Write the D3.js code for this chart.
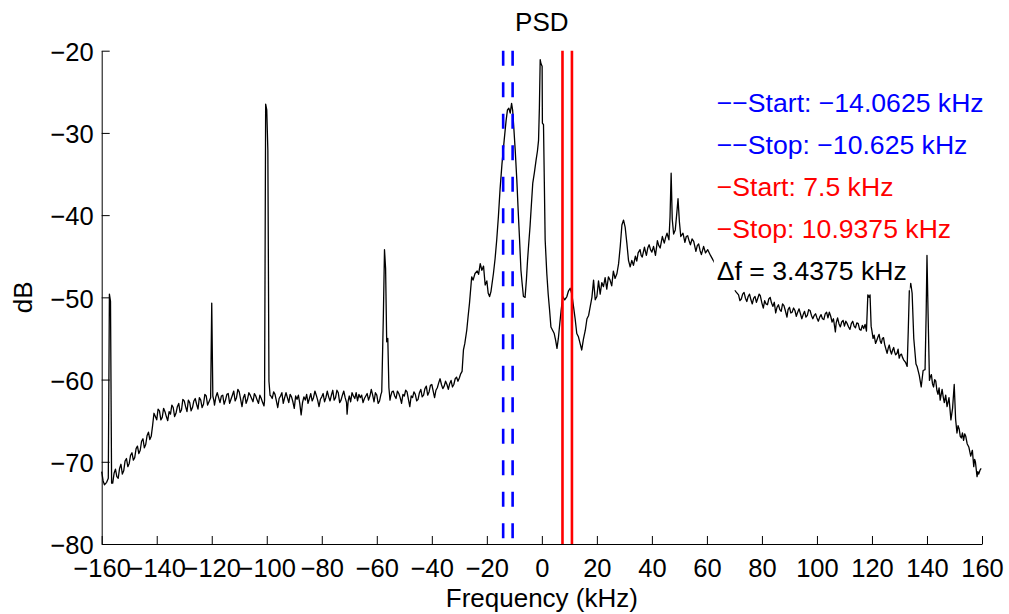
<!DOCTYPE html>
<html>
<head>
<meta charset="utf-8">
<script src="https://cdn.jsdelivr.net/npm/d3@7"></script>
<style>
  body { margin: 0; background: #fff; }
  svg { font-family: "Liberation Sans", Arial, sans-serif; }
</style>
</head>
<body>
<div id="container"></div>
<script>
/* CONSTANTS AND GLOBALS */
const width = 1009;
const height = 614;
const margin = { top: 50.7, right: 27, bottom: 70, left: 101.7 };

/* DATA */
// PSD trace, [frequency kHz, dB]
const psd = [
  [-160, -71.2], [-159.5, -72.3], [-159, -72.8], [-158.2, -72.5], [-157.6, -72.0], [-157.2, -49.6], [-156.8, -50.5], [-156.4, -72.6],
  [-156, -72.6], [-155.5, -71.4], [-155, -70.9], [-154.5, -71.8], [-154, -72.0], [-153.5, -70.8], [-153, -70.3], [-152.5, -71.5],
  [-152, -71.1], [-151.5, -69.9], [-151, -69.6], [-150.5, -70.6], [-150, -70.2], [-149.5, -69.2], [-149, -68.9], [-148.5, -69.8],
  [-148, -69.5], [-147.5, -68.4], [-147, -68.1], [-146.5, -69.0], [-146, -68.6], [-145.5, -67.5], [-145, -67.2], [-144.5, -68.3],
  [-144, -67.9], [-143.5, -66.8], [-143, -66.4], [-142.5, -67.3], [-142, -66.9], [-141.5, -65.6], [-141, -64.1], [-140.5, -64.5],
  [-140, -64.9], [-139.5, -63.6], [-139, -63.8], [-138.5, -64.9], [-138, -64.6], [-137.5, -63.5], [-137, -63.9], [-136.5, -64.5],
  [-136, -65.0], [-135.5, -63.9], [-135, -64.2], [-134.5, -63.1], [-134, -63.4], [-133.5, -64.5], [-133, -64.1], [-132.5, -63.3],
  [-132, -62.9], [-131.5, -64.0], [-131, -63.7], [-130.5, -62.4], [-130, -62.6], [-129.5, -63.3], [-129, -63.9], [-128.5, -62.5],
  [-128, -62.8], [-127.5, -63.8], [-127, -63.4], [-126.5, -62.6], [-126, -62.3], [-125.5, -63.0], [-125, -63.6], [-124.5, -62.2],
  [-124, -62.5], [-123.5, -63.4], [-123, -63.0], [-122.5, -61.8], [-122, -62.0], [-121.5, -63.1], [-121, -62.7], [-120.4, -62.2],
  [-120.0, -50.7], [-119.6, -62.0], [-119.2, -62.6], [-119, -63.1], [-118.5, -62.1], [-118, -61.6], [-117.5, -62.2], [-117, -62.8],
  [-116.5, -62.0], [-116, -61.9], [-115.5, -63.0], [-115, -62.5], [-114.5, -61.8], [-114, -61.7], [-113.5, -62.9], [-113, -62.4],
  [-112.5, -61.9], [-112, -61.4], [-111.5, -62.6], [-111, -62.2], [-110.5, -61.2], [-110, -61.5], [-109.5, -62.4], [-109, -63.3],
  [-108.5, -62.2], [-108, -61.8], [-107.5, -62.9], [-107, -62.4], [-106.5, -61.6], [-106, -61.9], [-105.5, -62.3], [-105, -62.7],
  [-104.5, -61.7], [-104, -62.0], [-103.5, -62.5], [-103, -62.9], [-102.5, -61.9], [-102, -62.3], [-101.5, -62.8], [-101, -63.2],
  [-100.8, -62.5], [-100.4, -26.5], [-100.0, -27.2], [-99.6, -32.1], [-99.2, -60.2], [-98.8, -61.9], [-98.5, -62.0], [-98, -62.3],
  [-97.5, -61.5], [-97, -61.8], [-96.5, -62.6], [-96, -63.4], [-95.5, -62.3], [-95, -62.0], [-94.5, -61.6], [-94, -62.9],
  [-93.5, -62.2], [-93, -61.6], [-92.5, -62.2], [-92, -62.8], [-91.5, -61.8], [-91, -62.1], [-90.5, -62.7], [-90, -63.5],
  [-89.5, -62.0], [-89, -62.4], [-88.5, -61.9], [-88, -62.9], [-87.5, -64.3], [-87, -62.8], [-86.5, -62.1], [-86, -62.5],
  [-85.5, -61.8], [-85, -62.9], [-84.5, -62.3], [-84, -61.7], [-83.5, -62.6], [-83, -62.2], [-82.5, -61.4], [-82, -61.9],
  [-81.5, -62.5], [-81, -63.3], [-80.5, -62.4], [-80, -62.1], [-79.5, -61.7], [-79, -62.7], [-78.5, -62.2], [-78, -61.4],
  [-77.5, -62.1], [-77, -62.6], [-76.5, -61.9], [-76, -61.3], [-75.5, -62.5], [-75, -62.2], [-74.5, -61.3], [-74, -61.6],
  [-73.5, -62.8], [-73, -62.5], [-72.5, -61.9], [-72, -61.4], [-71.5, -62.2], [-71, -62.8], [-70.8, -64.2], [-70.4, -62.6],
  [-70, -62.0], [-69.5, -62.7], [-69, -61.6], [-68.5, -62.0], [-68, -62.3], [-67.5, -61.6], [-67, -62.6], [-66.5, -61.8],
  [-66, -62.2], [-65.5, -61.9], [-65, -62.8], [-64.5, -62.3], [-64, -62.0], [-63.5, -61.7], [-63, -62.5], [-62.5, -62.0],
  [-62, -61.2], [-61.5, -61.9], [-61, -62.7], [-60.5, -61.6], [-60, -61.9], [-59.5, -62.9], [-59, -62.6], [-58.5, -61.8],
  [-58.2, -61.5], [-57.6, -52.0], [-57.2, -44.2], [-56.8, -46.5], [-56.4, -55.4], [-56.0, -55.0], [-55.6, -61.0], [-55.2, -62.5],
  [-55, -62.1], [-54.5, -61.5], [-54, -61.4], [-53.5, -62.0], [-53, -62.3], [-52.5, -61.4], [-52, -61.7], [-51.5, -62.2],
  [-51, -62.9], [-50.5, -61.8], [-50, -62.0], [-49.5, -61.3], [-49, -61.5], [-48.5, -62.4], [-48, -63.3], [-47.5, -62.0],
  [-47, -62.2], [-46.5, -61.5], [-46, -61.8], [-45.5, -62.6], [-45, -62.4], [-44.5, -61.6], [-44, -61.2], [-43.5, -62.1],
  [-43, -61.9], [-42.5, -61.1], [-42, -60.8], [-41.5, -61.9], [-41, -61.5], [-40.5, -60.7], [-40, -60.6], [-39.5, -61.4],
  [-39, -62.2], [-38.5, -61.3], [-38, -61.0], [-37.5, -60.4], [-37, -59.9], [-36.5, -60.6], [-36, -61.1], [-35.5, -60.8],
  [-35, -60.2], [-34.5, -60.6], [-34, -61.2], [-33.5, -60.5], [-33, -60.1], [-32.5, -60.9], [-32, -60.6], [-31.5, -59.9],
  [-31, -59.7], [-30.5, -60.2], [-30, -59.8], [-29.5, -59.3], [-29, -59.0], [-28.5, -56.4], [-28, -55.6], [-27.3, -54.0],
  [-26.8, -52.3], [-26.3, -50.7], [-25.5, -47.5], [-25, -47.9], [-24.3, -47.1], [-23.5, -46.8], [-23, -47.2], [-22.4, -45.9],
  [-21.8, -46.7], [-21.2, -46.2], [-20.6, -48.5], [-20, -48.0], [-19.5, -49.5], [-19, -49.9], [-18.5, -49.3], [-17.6, -47.1],
  [-17, -45.3], [-16.4, -43.0], [-15.8, -40.2], [-15.2, -36.9], [-14.5, -33.8], [-13.7, -30.9], [-13.0, -28.5], [-12.5, -27.2],
  [-12, -27.0], [-11.5, -27.6], [-11.0, -26.4], [-10.6, -27.3], [-10.3, -28.8], [-9.7, -32.0], [-9.1, -35.7], [-8.6, -39.5],
  [-8.1, -43.0], [-7.6, -46.7], [-7.2, -48.2], [-6.7, -49.9], [-6.1, -50.0], [-5.6, -47.8], [-5.2, -45.5], [-4.8, -43.6],
  [-4.3, -41.4], [-3.8, -38.7], [-3.3, -36.1], [-2.7, -34.8], [-2.1, -33.3], [-1.6, -32.2], [-1.2, -30.9], [-0.9, -27.0],
  [-0.6, -21.1], [-0.3, -21.6], [0.1, -21.9], [0.2, -28.8], [0.6, -29.0], [0.9, -36.0], [1.2, -43.0], [1.8, -47.1],
  [2.3, -49.6], [2.8, -51.5], [3.3, -53.6], [3.9, -54.0], [4.5, -54.4], [5.0, -55.2], [5.5, -56.2], [6.0, -55.0],
  [6.4, -53.6], [7.0, -51.6], [7.6, -49.9], [8.3, -50.3], [9.1, -49.9], [9.7, -49.2], [10.3, -48.9], [10.9, -49.6],
  [11.5, -51.1], [12.1, -52.6], [12.7, -54.4], [13.3, -54.8], [13.9, -55.6], [14.5, -56.4], [15.1, -55.1], [15.8, -54.0],
  [16.4, -52.6], [17.0, -52.2], [17.6, -51.1], [18.2, -50.0], [18.8, -47.9], [19.4, -50.3], [20.0, -49.9], [20.6, -48.0],
  [21.2, -49.6], [21.8, -48.2], [22.4, -48.7], [23.0, -47.6], [23.6, -49.0], [24.2, -47.5], [24.8, -47.9], [25.4, -48.6],
  [26.0, -46.8], [26.6, -47.7], [27.3, -47.1], [27.9, -45.9], [28.5, -43.8], [29.1, -41.2], [29.7, -40.6], [30.3, -41.5],
  [30.9, -43.4], [31.5, -45.5], [32.1, -46.3], [32.7, -45.5], [33.3, -46.1], [34, -45.0], [34.5, -45.6], [35, -44.6],
  [35.7, -44.2], [36.1, -44.9], [36.5, -45.1], [37.3, -43.9], [37.7, -44.5], [38, -44.9], [38.5, -44.0], [39, -43.6],
  [39.5, -44.2], [40, -44.5], [40.6, -43.8], [41.3, -44.9], [41.7, -43.9], [42, -43.1], [42.5, -43.7], [43, -44.0],
  [43.8, -42.6], [44.5, -43.4], [45, -42.7], [45.5, -42.2], [46.2, -43.0], [46.6, -40.2], [47.0, -34.9], [47.4, -40.5],
  [47.9, -42.3], [48.5, -41.8], [49.1, -39.6], [49.5, -38.0], [50.0, -40.8], [50.5, -42.6], [51.3, -42.2], [52, -43.3],
  [52.5, -42.6], [53, -42.5], [53.5, -43.1], [54, -43.6], [54.6, -42.9], [55.2, -43.2], [56, -44.4], [56.5, -43.7],
  [57, -43.5], [57.5, -44.3], [58, -44.8], [58.8, -43.8], [59.5, -44.6], [60.3, -44.2], [61.3, -44.9], [62.3, -45.5],
  [63.5, -46.2], [65, -46.8], [66.5, -47.5], [68, -48.0], [69.5, -48.6], [70.5, -49.3], [71.5, -49.7], [72, -50.4],
  [72.5, -50.2], [73, -49.6], [73.5, -49.4], [74, -50.1], [74.5, -50.5], [75, -49.9], [75.5, -49.6], [76, -50.3],
  [76.5, -50.8], [77, -50.1], [77.5, -49.9], [78, -50.6], [78.5, -50.1], [79, -49.6], [79.4, -49.8], [80, -50.7],
  [80.5, -51.3], [81, -50.4], [81.5, -50.8], [82, -50.9], [82.5, -50.2], [83, -50.0], [83.5, -50.7], [84, -51.1],
  [84.5, -50.6], [85, -51.9], [85.5, -51.2], [86, -50.9], [86.5, -51.5], [87, -51.7], [87.5, -50.8], [88, -51.0],
  [88.5, -51.6], [89.1, -52.4], [89.5, -51.5], [90, -51.2], [90.5, -51.9], [91, -51.8], [91.5, -51.3], [92, -51.6],
  [92.5, -52.3], [93, -51.8], [93.5, -51.4], [94, -52.0], [94.5, -52.6], [95, -52.1], [95.5, -51.7], [96, -52.4],
  [96.5, -52.2], [97, -51.5], [97.5, -51.6], [98, -52.2], [98.5, -52.6], [99, -52.2], [99.5, -52.0], [100, -52.5],
  [100.5, -52.9], [101, -52.4], [101.5, -52.1], [102, -52.6], [102.5, -52.7], [103, -52.0], [103.5, -51.8], [104, -52.5],
  [104.5, -51.8], [105, -52.3], [105.5, -53.0], [106, -52.6], [106.7, -54.2], [107, -53.1], [107.5, -52.5], [108, -53.2],
  [108.5, -53.6], [109, -53.0], [109.5, -52.8], [110, -53.5], [110.5, -52.9], [111, -53.2], [111.5, -53.6], [112, -53.9],
  [112.5, -53.2], [113, -52.9], [113.5, -53.5], [114, -53.7], [114.5, -53.1], [115, -53.2], [115.5, -53.9], [116, -54.0],
  [116.5, -53.4], [117, -53.8], [117.5, -53.3], [118, -54.1], [118.5, -49.7], [119, -50.0], [119.3, -49.7], [119.7, -53.5],
  [120, -54.1], [120.4, -55.0], [120.8, -54.6], [121.3, -55.6], [121.8, -55.2], [122.2, -54.8], [122.6, -54.5], [123, -55.3],
  [123.4, -55.6], [123.8, -55.0], [124.2, -54.9], [124.6, -55.7], [125.0, -56.2], [125.5, -56.8], [125.9, -56.2], [126.3, -55.8],
  [126.7, -56.5], [127.1, -56.9], [127.5, -56.4], [127.9, -56.1], [128.2, -56.6], [128.6, -57.0], [129.1, -56.8], [129.5, -56.3],
  [129.9, -57.4], [130.3, -57.0], [130.7, -56.9], [131.1, -57.3], [131.5, -57.6], [132.2, -57.9], [132.8, -58.4], [133.2, -54.0],
  [133.6, -49.0], [134.1, -48.3], [134.6, -49.5], [135.2, -55.0], [136.0, -58.1], [136.4, -58.4], [137.2, -59.5], [137.9, -60.9],
  [138.6, -58.9], [139.3, -58.8], [139.7, -52.0], [140.0, -44.9], [140.4, -52.0], [140.9, -60.1], [141.2, -59.7], [141.6, -59.4],
  [142, -60.5], [142.4, -60.9], [142.8, -60.0], [143.2, -60.2], [143.6, -61.3], [144, -61.8], [144.4, -61.0], [144.8, -62.5],
  [145.5, -61.2], [145.9, -62.1], [146.3, -62.8], [146.8, -61.9], [147.3, -63.3], [148, -62.2], [148.7, -64.9], [149.3, -63.5],
  [149.9, -60.6], [150.4, -64.8], [150.9, -66.5], [151.3, -65.6], [151.7, -66.0], [152.1, -66.9], [152.5, -67.1], [152.9, -66.5],
  [153.3, -67.4], [153.7, -66.6], [154.1, -66.9], [154.6, -67.8], [155.2, -68.2], [155.9, -69.3], [156.5, -68.6], [157, -70.6],
  [157.3, -69.7], [157.6, -70.0], [158.2, -71.8], [158.5, -71.2], [158.8, -71.5], [159.3, -71.0], [159.7, -70.8]
];

// band markers (kHz)
const blueMarkers = [-14.0625, -10.625];
const redMarkers = [7.5, 10.9375];

// tick values
const xTicks = d3.range(-160, 161, 20);
const yTicks = d3.range(-80, -19, 10);

// annotation lines
const noteLabels = ["\u2212\u2212Start: \u221214.0625 kHz", "\u2212\u2212Stop: \u221210.625 kHz",
  "\u2212Start: 7.5 kHz", "\u2212Stop: 10.9375 kHz", "\u0394f = 3.4375 kHz"];
const noteColors = ["#0000ff", "#0000ff", "#ff0000", "#ff0000", "#000000"];

/* SCALES */
const xScale = d3.scaleLinear()
  .domain([-160, 160])
  .range([margin.left, width - margin.right]);

const yScale = d3.scaleLinear()
  .domain([-80, -20])
  .range([height - margin.bottom, margin.top]);

/* HTML ELEMENTS */
const svg = d3.select("#container")
  .append("svg")
  .attr("width", width)
  .attr("height", height);

// x axis, ticks pointing inward
const xAxis = svg.append("g")
  .attr("transform", `translate(0,${height - margin.bottom})`)
  .call(d3.axisBottom(xScale).tickValues(xTicks).tickSizeInner(-8).tickSizeOuter(0).tickPadding(15));

// y axis
const yAxis = svg.append("g")
  .attr("transform", `translate(${margin.left},0)`)
  .call(d3.axisLeft(yScale).tickValues(yTicks).tickSizeInner(-8).tickSizeOuter(0).tickPadding(8));

svg.selectAll(".tick text")
  .attr("font-size", 25.5)
  .attr("font-family", "Liberation Sans, Arial, sans-serif")
  .attr("fill", "#000");
yAxis.selectAll(".tick text").attr("dy", "0.38em");
svg.selectAll(".domain, .tick line").attr("stroke", "#000");

// PSD line
const line = d3.line()
  .x(d => xScale(d[0]))
  .y(d => yScale(d[1]));

svg.append("path")
  .datum(psd)
  .attr("d", line)
  .attr("fill", "none")
  .attr("stroke", "#000")
  .attr("stroke-width", 1.3)
  .attr("stroke-linejoin", "round");

// start / stop markers
svg.selectAll("line.blue")
  .data(blueMarkers)
  .join("line")
  .attr("class", "blue")
  .attr("x1", d => xScale(d)).attr("x2", d => xScale(d))
  .attr("y1", yScale(-20)).attr("y2", yScale(-80))
  .attr("stroke", "#0000ff")
  .attr("stroke-width", 2.6)
  .attr("stroke-dasharray", "15,16.5");

svg.selectAll("line.red")
  .data(redMarkers)
  .join("line")
  .attr("class", "red")
  .attr("x1", d => xScale(d)).attr("x2", d => xScale(d))
  .attr("y1", yScale(-20)).attr("y2", yScale(-80))
  .attr("stroke", "#ff0000")
  .attr("stroke-width", 2.6);

// annotations with white background
const notes = svg.append("g");
noteLabels.forEach((label, i) => {
  const g = notes.append("g");
  const t = g.append("text")
    .attr("x", xScale(63.6))
    .attr("y", 112.3 + i * 42)
    .attr("font-size", 26.6)
    .attr("fill", noteColors[i])
    .text(label);
  const bb = t.node().getBBox();
  g.insert("rect", "text")
    .attr("x", bb.x - 3)
    .attr("y", bb.y - 2)
    .attr("width", bb.width + 6)
    .attr("height", bb.height + 6)
    .attr("fill", "#fff");
});

// title and axis labels
svg.append("text")
  .attr("x", (xScale(-160) + xScale(160)) / 2)
  .attr("y", 31)
  .attr("text-anchor", "middle")
  .attr("font-size", 26)
  .text("PSD");

svg.append("text")
  .attr("x", (xScale(-160) + xScale(160)) / 2)
  .attr("y", 607)
  .attr("text-anchor", "middle")
  .attr("font-size", 26)
  .text("Frequency (kHz)");

svg.append("text")
  .attr("transform", `translate(31.7,${(yScale(-20) + yScale(-80)) / 2}) rotate(-90)`)
  .attr("text-anchor", "middle")
  .attr("font-size", 26)
  .text("dB");
</script>
</body>
</html>
